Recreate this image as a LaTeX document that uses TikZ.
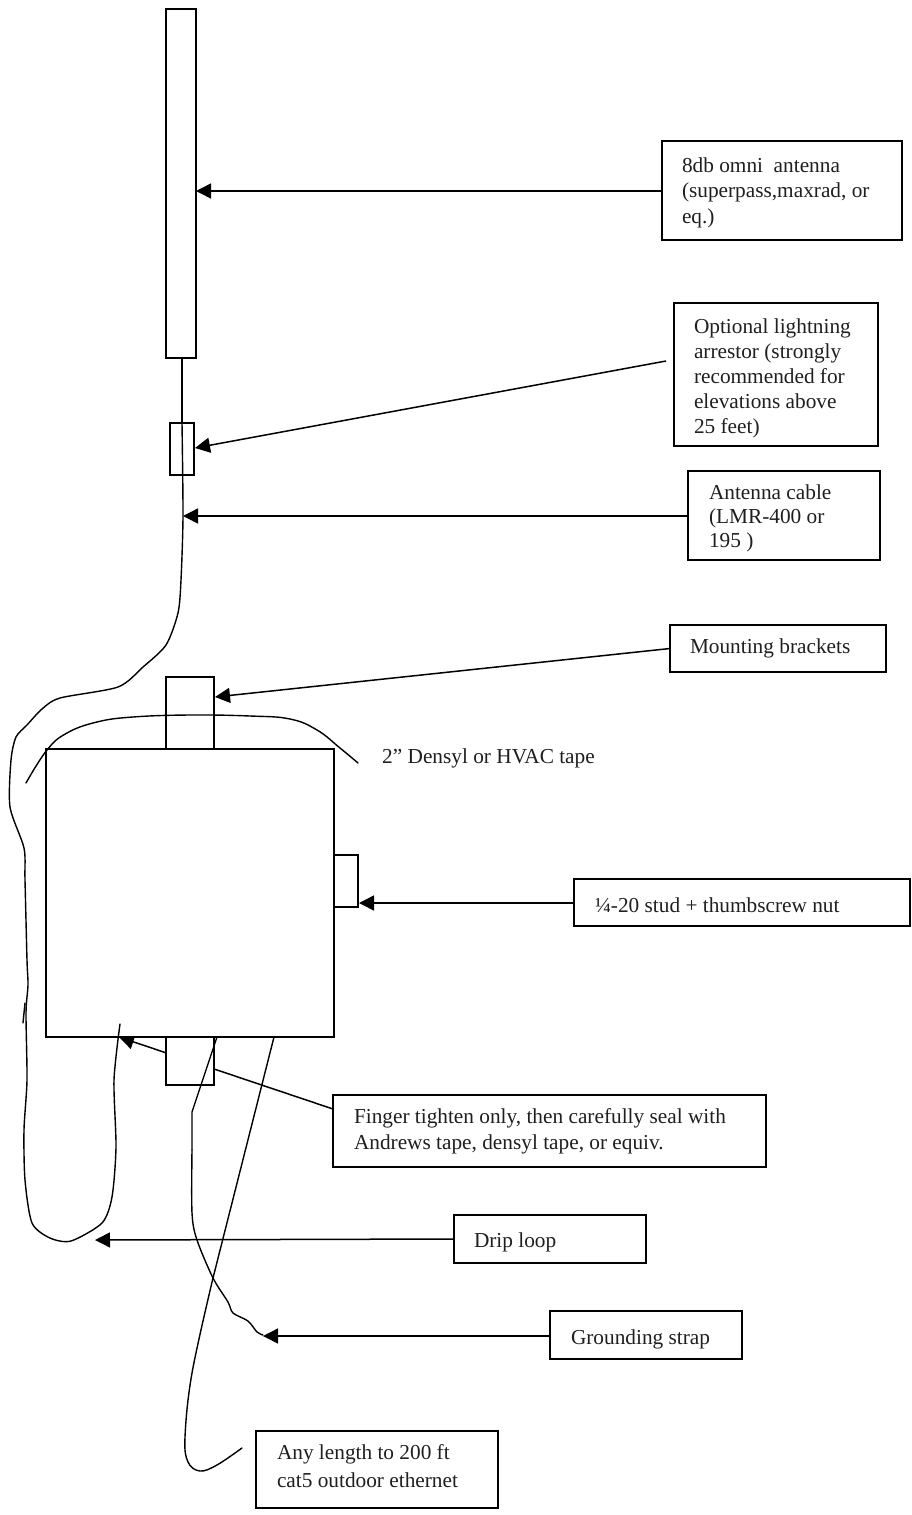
\documentclass[tikz,border=0pt]{standalone}
\usepackage{fontspec}
\setmainfont{Liberation Serif}
\usetikzlibrary{arrows.meta}
% name, x0, y0, x1, y1, text x, first baseline y, line skip, text
\newcommand{\labbox}[9]{%
  \pgfmathsetmacro{\bxW}{#4-#2}\pgfmathsetmacro{\bxH}{#5-#3}%
  \pgfmathsetmacro{\bxI}{#6-#2}\pgfmathsetmacro{\bxD}{(#3+#5)/2-#7}%
  \pgfmathsetmacro{\bxT}{#4-#6}%
  \node[part,minimum width=\bxW pt,minimum height=\bxH pt,anchor=north west] (#1) at (#2,#3)
   {\makebox[\bxW pt][l]{\hspace*{\bxI pt}\raisebox{\bxD pt}[0pt][0pt]{\parbox[t]{\bxT pt}{\leavevmode\lab\setlength{\baselineskip}{#8pt}\raggedright #9}}}};}
\newcommand{\lab}{\fontsize{21.3}{25}\selectfont\color{black!88}}
\tikzset{
  part/.style={draw=black,line width=1.6pt,fill=white,inner sep=0pt,outer sep=0pt},
  wire/.style={draw=black,line width=1.4pt,line cap=round,line join=round},
  pointer/.style={draw=black,line width=1.5pt,-{Triangle[length=15pt,width=15pt]}}
}
\begin{document}
\begin{tikzpicture}[x=1pt,y=-1pt]
\useasboundingbox (0,0) rectangle (911,1515);
\fill[white] (0,0) rectangle (911,1515);
% tips
\coordinate (tipant) at (196,191);
\coordinate (tiparr) at (195,448);
\coordinate (tipcab) at (183,516);
\coordinate (tipmnt) at (215,697);
\coordinate (tipstd) at (359,903);
\coordinate (tipfin) at (119,1037);
\coordinate (tipdrp) at (95,1240);
\coordinate (tipgnd) at (263,1336);
\coordinate (arrstart) at (666,361);
\coordinate (wtop) at (182,358);
% label boxes
\labbox{omni}{662}{141}{902}{240}{682}{172}{25.5}{8db omni\ \ antenna\\(superpass,maxrad, or\\eq.)}
\labbox{opt}{674}{303}{878}{446}{694}{333}{25}{Optional lightning\\arrestor (strongly\\recommended for\\elevations above\\25 feet)}
\labbox{cab}{688}{471}{880}{560}{709}{499}{24}{Antenna cable\\(LMR-400 or\\195 )}
\labbox{mnt}{670}{625}{886}{672}{690}{653}{25}{Mounting brackets}
\labbox{std}{574}{879}{910}{926}{595}{912}{25}{¼-20 stud + thumbscrew nut}
\labbox{fin}{333}{1095}{766}{1167}{354}{1123}{26}{Finger tighten only, then carefully seal with\\Andrews tape, densyl tape, or equiv.}
\labbox{drp}{454}{1215}{646}{1263}{474}{1247}{25}{Drip loop}
\labbox{gnd}{550}{1311}{742}{1359}{571}{1344}{25}{Grounding strap}
\labbox{any}{256}{1431}{498}{1508}{277}{1459}{28}{Any length to 200 ft\\cat5 outdoor ethernet}
\node[anchor=base west,inner sep=0pt] (tape) at (382,763) {\lab 2” Densyl or HVAC tape};
% pointers
\draw[pointer] (omni.west |- tipant) -- (tipant);
\draw[pointer] (arrstart) -- (tiparr);
\draw[pointer] (cab.west |- tipcab) -- (tipcab);
\draw[pointer] (mnt.west) -- (tipmnt);
\draw[pointer] (std.west |- tipstd) -- (tipstd);
\draw[pointer] (fin.north west) ++(0,14) -- (tipfin);
\draw[pointer] (drp.west) -- (tipdrp);
\draw[pointer] (gnd.west |- tipgnd) -- (tipgnd);
% equipment
\node[part,minimum width=30pt,minimum height=349pt,anchor=north west] (ant) at (166,9) {};
\node[part,minimum width=48pt,minimum height=72pt,anchor=north west] (topbr) at (166,677) {};
\node[part,minimum width=48pt,minimum height=48pt,anchor=north west] (botbr) at (166,1037) {};
\node[part,minimum width=24pt,minimum height=52pt,anchor=north west] (stud) at (334,855) {};
\node[part,minimum width=288pt,minimum height=288pt,anchor=north west] (main) at (46,749) {};
\node[part,fill=none,minimum width=24pt,minimum height=52pt,anchor=north west] (arr) at (170,423) {};
% antenna cable
\draw[wire,line width=1.5pt] (ant.south -| wtop) -- (182,423);
\draw[wire] plot[smooth,tension=.45] coordinates {(182,423) (183,516) (181,580) (178,613) (166,645) (143,667) (118,687) (60,698) (42,709) (27,725) (16,737) (11,760) (10,807) (24,848) (25,880) (27,960) (28,985) (26,1013) (27,1080) (24,1130) (25,1180) (32,1223) (50,1238) (71,1241) (102,1223) (112,1197) (116,1147) (114,1080) (120,1024)};
\draw[wire] (25,1003) -- (23,1023);
% tape
\draw[wire] plot[smooth,tension=.7] coordinates {(26,783) (47,750) (67,733) (97,722) (133,717) (190,715) (250,716) (290,719) (317,730) (340,748) (358,763)};
% strap
\draw[wire] (botbr.north east) ++(3,0) -- (192,1112) -- (192,1150);
\draw[wire] plot[smooth,tension=.5] coordinates {(192,1150) (192,1213) (197,1240) (213,1278) (228,1302) (233,1313) (248,1321) (257,1332) (263,1335)};
% ethernet
\draw[wire] (main.south east) ++(-60,0) -- (213,1278);
\draw[wire] plot[smooth,tension=.6] coordinates {(213,1278) (192,1373) (185,1437) (188,1462) (200,1471) (217,1465) (242,1448)};
\end{tikzpicture}
\end{document}
